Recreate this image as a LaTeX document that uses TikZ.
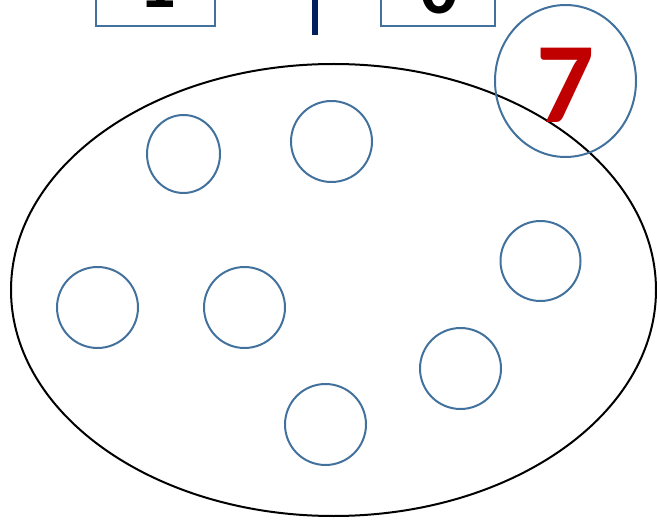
\documentclass[tikz,border=0pt]{standalone}
\usepackage{fontspec}
\setmainfont{Carlito}
\usetikzlibrary{shapes.geometric}
\definecolor{cblue}{HTML}{41719C}
\definecolor{cred}{HTML}{C00000}
\definecolor{cnavy}{HTML}{002060}
\begin{document}
\begin{tikzpicture}[x=0.75pt,y=-0.75pt,
  ball/.style={draw=cblue,line width=1.5pt,ellipse,inner sep=0pt,minimum width=60.75pt,minimum height=60.75pt},
  topbox/.style={draw=cblue,line width=1.5pt,inner sep=0pt},
  digit/.style={font=\bfseries\fontsize{56}{60}\selectfont,anchor=base,inner sep=0pt}]
\useasboundingbox (0,0) rectangle (657,520);
\clip (0,0) rectangle (657,520);
% top boxes (cut off)
\node[topbox,minimum width=89.25pt,minimum height=60pt,anchor=south] (box1) at (155.5,27) {};
\node[topbox,minimum width=85.5pt,minimum height=60pt,anchor=south] (box0) at (438,27) {};
\node[digit] (t1) at (157,8) {1};
\node[digit] (t0) at (439,14) {0};
\coordinate (vtop) at (315,-5);
\coordinate (vbot) at (315,35);
\draw[cnavy,line width=4.5pt] (vtop) -- (vbot);
% big ellipse
\node[draw=black,line width=1.5pt,ellipse,inner sep=0pt,minimum width=483.75pt,minimum height=339pt] (set) at (333.5,290) {};
% seven circle
\node[draw=cblue,line width=1.5pt,ellipse,inner sep=0pt,minimum width=105.75pt,minimum height=114pt] (c7) at (565.5,81) {};
\node[font=\bfseries\fontsize{86}{90}\selectfont,text=cred,anchor=base,inner sep=0pt] (seven) at (566,123) {7};
% small circles
\node[ball,minimum width=54.75pt,minimum height=58.5pt] (b1) at (183.5,154) {};
\node[ball] (b2) at (331.5,141.5) {};
\node[ball,minimum width=60pt,minimum height=60pt] (b3) at (540.5,261) {};
\node[ball] (b4) at (97.5,307.5) {};
\node[ball] (b5) at (244.5,307.5) {};
\node[ball] (b6) at (460.5,368.5) {};
\node[ball] (b7) at (325.5,424.5) {};
\end{tikzpicture}
\end{document}
